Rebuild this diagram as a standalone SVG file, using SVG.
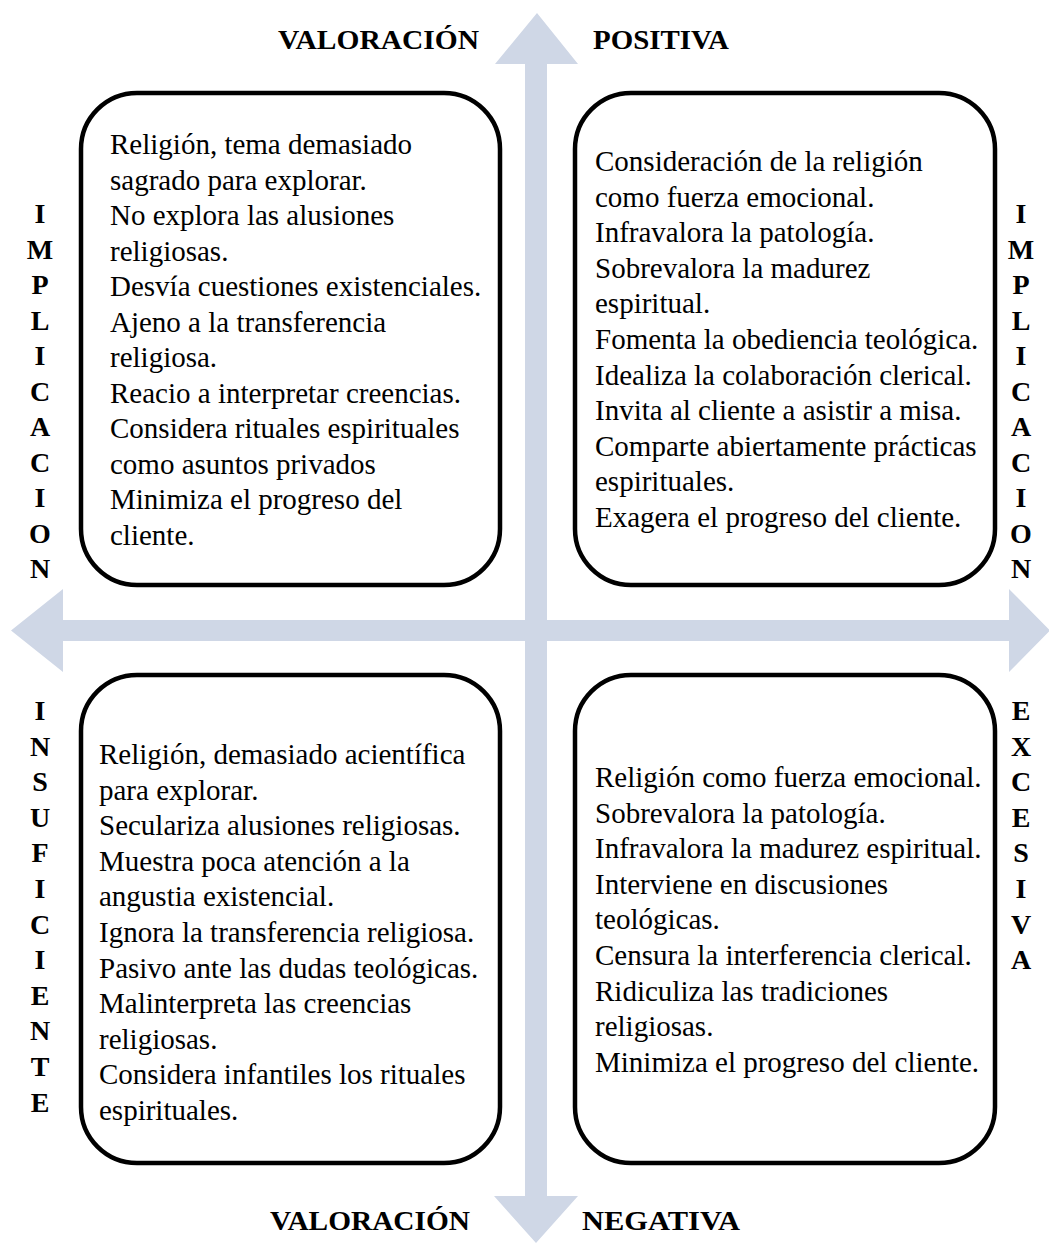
<svg xmlns="http://www.w3.org/2000/svg" width="1049" height="1244" viewBox="0 0 1049 1244">
<style>
.box{fill:none;stroke:#000;stroke-width:4.5}
.arrow{fill:#cfd7e6;stroke:none}
.t{font-family:"Liberation Serif","Times New Roman",serif;font-size:29px;fill:#000}
.h{font-family:"Liberation Serif","Times New Roman",serif;font-size:28px;font-weight:bold;fill:#000}
.v{font-family:"Liberation Serif","Times New Roman",serif;font-size:28px;font-weight:bold;fill:#000;text-anchor:middle}
</style>
<rect width="1049" height="1244" fill="#fff"/>
<g id="connectors">
<polygon class="arrow" points="537,13 578,64 547,64 547,1196 578,1196 536,1243 494,1196 525,1196 525,64 495,64"/>
<polygon class="arrow" points="11,630.5 63,589 63,620 1009,620 1009,589 1050,630.5 1009,672 1009,641 63,641 63,672"/>
</g>
<g id="header-top">
<text class="h" x="278" y="49" textLength="201" lengthAdjust="spacingAndGlyphs">VALORACIÓN</text>
<text class="h" x="593" y="49" textLength="136" lengthAdjust="spacingAndGlyphs">POSITIVA</text>
</g>
<g id="header-bottom">
<text class="h" x="270" y="1230" textLength="200" lengthAdjust="spacingAndGlyphs">VALORACIÓN</text>
<text class="h" x="582" y="1230" textLength="158" lengthAdjust="spacingAndGlyphs">NEGATIVA</text>
</g>
<g id="label-left-top">
<text class="v" x="40" y="223">I</text>
<text class="v" x="40" y="258.5">M</text>
<text class="v" x="40" y="294">P</text>
<text class="v" x="40" y="329.5">L</text>
<text class="v" x="40" y="365">I</text>
<text class="v" x="40" y="400.5">C</text>
<text class="v" x="40" y="436">A</text>
<text class="v" x="40" y="471.5">C</text>
<text class="v" x="40" y="507">I</text>
<text class="v" x="40" y="542.5">O</text>
<text class="v" x="40" y="578">N</text>
</g>
<g id="label-right-top">
<text class="v" x="1021" y="223">I</text>
<text class="v" x="1021" y="258.5">M</text>
<text class="v" x="1021" y="294">P</text>
<text class="v" x="1021" y="329.5">L</text>
<text class="v" x="1021" y="365">I</text>
<text class="v" x="1021" y="400.5">C</text>
<text class="v" x="1021" y="436">A</text>
<text class="v" x="1021" y="471.5">C</text>
<text class="v" x="1021" y="507">I</text>
<text class="v" x="1021" y="542.5">O</text>
<text class="v" x="1021" y="578">N</text>
</g>
<g id="label-left-bottom">
<text class="v" x="40" y="720">I</text>
<text class="v" x="40" y="755.6">N</text>
<text class="v" x="40" y="791.2">S</text>
<text class="v" x="40" y="826.8">U</text>
<text class="v" x="40" y="862.4">F</text>
<text class="v" x="40" y="898">I</text>
<text class="v" x="40" y="933.6">C</text>
<text class="v" x="40" y="969.2">I</text>
<text class="v" x="40" y="1004.8">E</text>
<text class="v" x="40" y="1040.4">N</text>
<text class="v" x="40" y="1076">T</text>
<text class="v" x="40" y="1111.6">E</text>
</g>
<g id="label-right-bottom">
<text class="v" x="1021" y="720">E</text>
<text class="v" x="1021" y="755.6">X</text>
<text class="v" x="1021" y="791.2">C</text>
<text class="v" x="1021" y="826.8">E</text>
<text class="v" x="1021" y="862.4">S</text>
<text class="v" x="1021" y="898">I</text>
<text class="v" x="1021" y="933.6">V</text>
<text class="v" x="1021" y="969.2">A</text>
</g>
<g id="box-top-left">
<rect class="box" x="81" y="93" width="419" height="492" rx="56" ry="56"/>
<text class="t" x="110" y="154">Religión, tema demasiado</text>
<text class="t" x="110" y="189.5">sagrado para explorar.</text>
<text class="t" x="110" y="225">No explora las alusiones</text>
<text class="t" x="110" y="260.5">religiosas.</text>
<text class="t" x="110" y="296">Desvía cuestiones existenciales.</text>
<text class="t" x="110" y="331.5">Ajeno a la transferencia</text>
<text class="t" x="110" y="367">religiosa.</text>
<text class="t" x="110" y="402.5">Reacio a interpretar creencias.</text>
<text class="t" x="110" y="438">Considera rituales espirituales</text>
<text class="t" x="110" y="473.5">como asuntos privados</text>
<text class="t" x="110" y="509">Minimiza el progreso del</text>
<text class="t" x="110" y="544.5">cliente.</text>
</g>
<g id="box-top-right">
<rect class="box" x="575" y="93" width="420" height="492" rx="56" ry="56"/>
<text class="t" x="595" y="171">Consideración de la religión</text>
<text class="t" x="595" y="206.6">como fuerza emocional.</text>
<text class="t" x="595" y="242.2">Infravalora la patología.</text>
<text class="t" x="595" y="277.8">Sobrevalora la madurez</text>
<text class="t" x="595" y="313.4">espiritual.</text>
<text class="t" x="595" y="349">Fomenta la obediencia teológica.</text>
<text class="t" x="595" y="384.6">Idealiza la colaboración clerical.</text>
<text class="t" x="595" y="420.2">Invita al cliente a asistir a misa.</text>
<text class="t" x="595" y="455.8">Comparte abiertamente prácticas</text>
<text class="t" x="595" y="491.4">espirituales.</text>
<text class="t" x="595" y="527">Exagera el progreso del cliente.</text>
</g>
<g id="box-bottom-left">
<rect class="box" x="81" y="675" width="419" height="488" rx="56" ry="56"/>
<text class="t" x="99" y="764">Religión, demasiado acientífica</text>
<text class="t" x="99" y="799.6">para explorar.</text>
<text class="t" x="99" y="835.2">Seculariza alusiones religiosas.</text>
<text class="t" x="99" y="870.8">Muestra poca atención a la</text>
<text class="t" x="99" y="906.4">angustia existencial.</text>
<text class="t" x="99" y="942">Ignora la transferencia religiosa.</text>
<text class="t" x="99" y="977.6">Pasivo ante las dudas teológicas.</text>
<text class="t" x="99" y="1013.2">Malinterpreta las creencias</text>
<text class="t" x="99" y="1048.8">religiosas.</text>
<text class="t" x="99" y="1084.4">Considera infantiles los rituales</text>
<text class="t" x="99" y="1120">espirituales.</text>
</g>
<g id="box-bottom-right">
<rect class="box" x="575" y="675" width="420" height="488" rx="56" ry="56"/>
<text class="t" x="595" y="787">Religión como fuerza emocional.</text>
<text class="t" x="595" y="822.6">Sobrevalora la patología.</text>
<text class="t" x="595" y="858.2">Infravalora la madurez espiritual.</text>
<text class="t" x="595" y="893.8">Interviene en discusiones</text>
<text class="t" x="595" y="929.4">teológicas.</text>
<text class="t" x="595" y="965">Censura la interferencia clerical.</text>
<text class="t" x="595" y="1000.6">Ridiculiza las tradiciones</text>
<text class="t" x="595" y="1036.2">religiosas.</text>
<text class="t" x="595" y="1071.8">Minimiza el progreso del cliente.</text>
</g>
</svg>
